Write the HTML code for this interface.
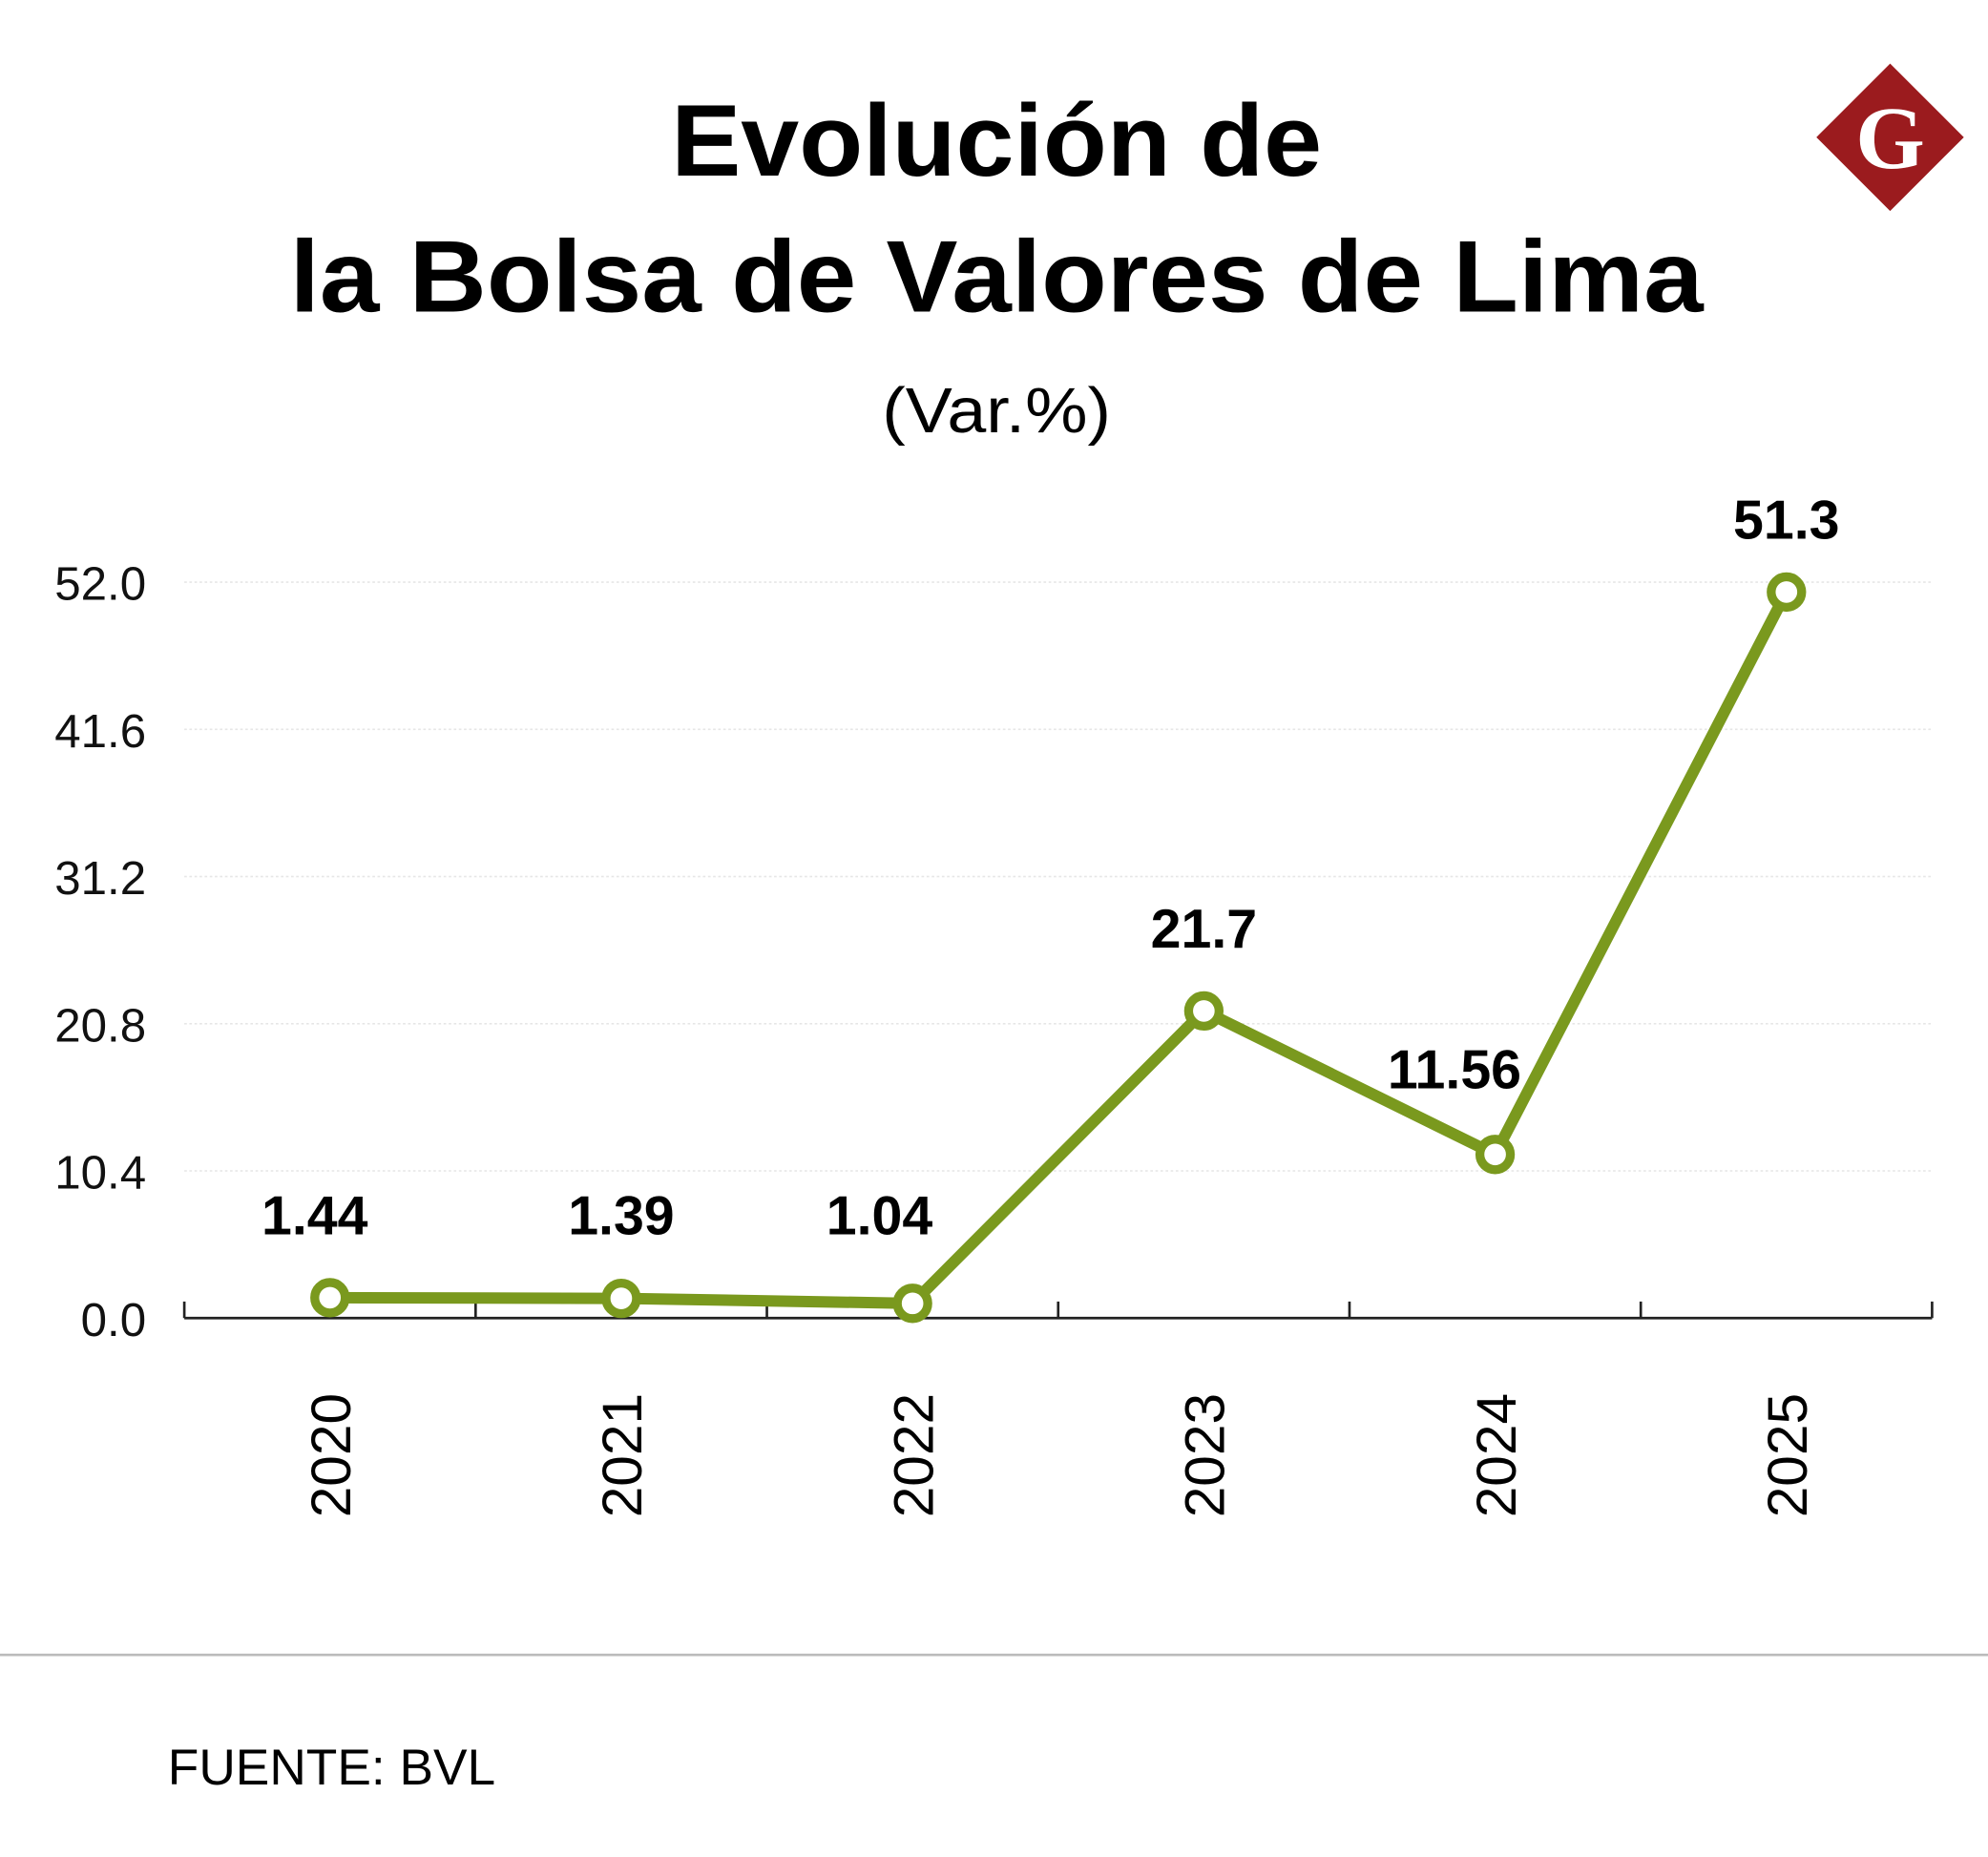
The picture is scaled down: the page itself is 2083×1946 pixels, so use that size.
<!DOCTYPE html>
<html><head><meta charset="utf-8">
<style>
html,body{margin:0;padding:0;background:#fff;}
svg{display:block;font-family:"Liberation Sans",sans-serif;}
</style></head>
<body>
<svg id="chart" width="2083" height="1946" viewBox="0 0 1564 1461" preserveAspectRatio="none" xmlns="http://www.w3.org/2000/svg">
  <rect width="1564" height="1461" fill="#fff"/>
  <text x="784" y="138" text-anchor="middle" font-size="80" font-weight="bold" textLength="512" lengthAdjust="spacingAndGlyphs">Evolución de</text>
  <text x="784" y="245" text-anchor="middle" font-size="80" font-weight="bold" textLength="1112" lengthAdjust="spacingAndGlyphs">la Bolsa de Valores de Lima</text>
  <text x="784" y="340" text-anchor="middle" font-size="50" textLength="180" lengthAdjust="spacingAndGlyphs">(Var.%)</text>
  <g>
    <polygon points="1487,50 1545,108 1487,166 1429,108" fill="#9b1b1e"/>
    <text x="1487" y="132" text-anchor="middle" font-size="70" font-weight="bold" fill="#fff" font-family="Liberation Serif,serif">G</text>
  </g>
  <g id="grid"></g>
  <g id="axes"></g>
  <g id="series"></g>
  <line x1="0" y1="1302" x2="1564" y2="1302" stroke="#bbb" stroke-width="2"/>
  <text x="132" y="1404" font-size="40">FUENTE: BVL</text>
</svg>
<script>
const categories = ["2020","2021","2022","2023","2024","2025"];
const values = [1.44, 1.39, 1.04, 21.7, 11.56, 51.3];
const valueLabels = ["1.44","1.39","1.04","21.7","11.56","51.3"];
const yTicks = [0, 10.4, 20.8, 31.2, 41.6, 52.0];

const NS = "http://www.w3.org/2000/svg";
const x0 = 145, x1 = 1520, yBase = 1037, yTop = 458;
const band = (x1 - x0) / categories.length;
const xScale = i => x0 + (i + 0.5) * band;
const yScale = v => yBase - (v / 52) * (yBase - yTop);
function mk(tag, attrs, parent){const e=document.createElementNS(NS,tag);for(const k in attrs)e.setAttribute(k,attrs[k]);parent.appendChild(e);return e;}

const grid = document.getElementById("grid");
const axes = document.getElementById("axes");
const series = document.getElementById("series");

yTicks.forEach(t => {
  const y = yScale(t);
  if (t > 0) {
    const g = mk("line",{x1:x0,x2:x1,y1:y,y2:y,stroke:"#e6e6e6","stroke-width":1.2,"stroke-dasharray":"2,2"},grid);
    
    
  }
  const l = mk("text",{x:115,y:y+14,"text-anchor":"end","font-size":37,fill:"#111"},axes);
  l.textContent = t.toFixed(1);
  
  
});

const ax = mk("line",{x1:x0,x2:x1,y1:yBase,y2:yBase,stroke:"#222","stroke-width":2},axes);


for (let i = 0; i <= categories.length; i++) {
  const x = x0 + i * band;
  const tk = mk("line",{x1:x,x2:x,y1:yBase-13,y2:yBase,stroke:"#222","stroke-width":2},axes);
  
  
}
categories.forEach((c, i) => {
  const x = xScale(i), y = 1145;
  const t = mk("text",{x:x,y:y,"text-anchor":"middle","font-size":44,transform:`rotate(-90 ${x} ${y}) translate(0 16)`},axes);
  t.textContent = c;
  
  
});

const pts = values.map((v, i) => `${xScale(i)},${yScale(v)}`).join(" ");
const line = mk("polyline",{points:pts,fill:"none",stroke:"#7a991e","stroke-width":9,"stroke-linejoin":"round"},series);



values.forEach((v, i) => {
  const cx = xScale(i), cy = yScale(v);
  const c = mk("circle",{cx:cx,cy:cy,r:12,fill:"#fff",stroke:"#7a991e","stroke-width":7},series);
  
  
  let lx = cx, ly = cy - 52;
  if (i === 0) lx = cx - 12;
  if (i === 2) lx = cx - 26;
  if (i === 4) lx = cx - 32;
  if (i === 5) ly = cy - 42;
  if (i === 3) ly = cy - 50;
  if (i < 3) ly = yScale(0) - 66;
  const t = mk("text",{x:lx,y:ly,"text-anchor":"middle","font-size":43,"font-weight":"bold"},series);
  t.textContent = valueLabels[i];
  
  
});
</script>
</body></html>
